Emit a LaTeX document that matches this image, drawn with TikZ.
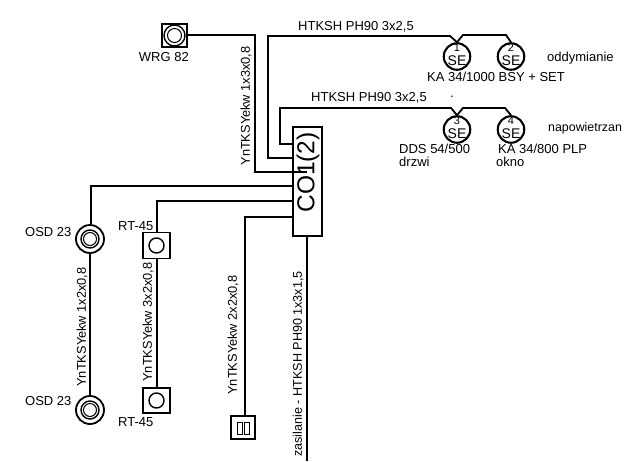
\documentclass[tikz,border=0pt]{standalone}
\usepackage{fontspec}
\setmainfont{Liberation Sans}
\tikzset{
	lbl/.style={inner sep=0pt,font=\fontsize{13}{14}\selectfont},
	vlbl/.style={inner sep=0pt,rotate=90,font=\fontsize{12.8}{14}\selectfont},
	wire/.style={line width=1.8pt},
	sensor/.style={draw,line width=2.1pt,circle,minimum size=26.5pt,inner sep=0pt},
	ring/.style={draw,line width=1.4pt,circle,inner sep=0pt},
	sqbox/.style={draw,line width=1.6pt,inner sep=0pt},
	senum/.style={inner sep=0pt,font=\fontsize{11}{12}\selectfont},
	setxt/.style={inner sep=0pt,font=\fontsize{14}{15}\selectfont}
}
\begin{document}
\begin{tikzpicture}[x=1pt,y=-1pt]
	\useasboundingbox (0,0) rectangle (626,461);
	% central box
	\node[draw,line width=1.1pt,minimum width=29pt,minimum height=109pt,inner sep=0pt] (co) at (307.5,181.5) {};
	\node[rotate=90,inner sep=0pt,font=\fontsize{24.5}{26}\selectfont] (cotxt) at (308,172.5) {CO1(2)};
	% top left button
	\node[sqbox,minimum width=25pt,minimum height=23pt] (wrg) at (174.5,35.5) {};
	\node[ring,minimum size=21pt] (wrga) at (wrg) {};
	\node[ring,line width=1pt,minimum size=14pt] (wrgb) at (wrg) {};
	\node[lbl,anchor=east] (wrgtxt) at (189,57) {WRG 82};
	% detectors
	\node[ring,line width=1.8pt,minimum size=28pt] (osda) at (90,239) {};
	\node[ring,minimum size=18pt] (osdb) at (osda) {};
	\node[ring,line width=1pt,minimum size=13pt] (osdc) at (osda) {};
	\node[ring,line width=1.8pt,minimum size=28pt] (osdd) at (90,410) {};
	\node[ring,minimum size=18pt] (osde) at (osdd) {};
	\node[ring,line width=1pt,minimum size=13pt] (osdf) at (osdd) {};
	\node[lbl,anchor=west] (osdatxt) at (25,232) {OSD 23};
	\node[lbl,anchor=west] (osdbtxt) at (25,401) {OSD 23};
	% manual switches
	\node[sqbox,minimum width=27pt,minimum height=26pt] (rta) at (156.5,245.5) {};
	\node[ring,minimum size=15pt] (rtaa) at (rta) {};
	\node[sqbox,minimum width=27pt,minimum height=25pt] (rtb) at (156.5,400.5) {};
	\node[ring,minimum size=15pt] (rtbb) at (rtb) {};
	\node[lbl,anchor=west] (rtatxt) at (118,226) {RT-45};
	\node[lbl,anchor=west] (rtbtxt) at (118,422) {RT-45};
	% small box
	\node[sqbox,minimum width=24pt,minimum height=23pt] (kont) at (243,427.5) {};
	\node[draw,line width=.8pt,minimum width=5pt,minimum height=12pt,inner sep=0pt] (konta) at (239.5,428) {};
	\node[draw,line width=.8pt,minimum width=5pt,minimum height=12pt,inner sep=0pt] (kontb) at (247,428) {};
	% SE units
	\node[sensor] (sea) at (457,56.5) {};
	\node[sensor] (seb) at (511,56.5) {};
	\node[sensor] (sec) at (457,129.5) {};
	\node[sensor] (sed) at (511,129.5) {};
	% turning points
	\coordinate (ta) at (255,35);
	\coordinate (tb) at (255,172);
	\coordinate (tc) at (307,172);
	\coordinate (td) at (268,158);
	\coordinate (te) at (268,36);
	\coordinate (tf) at (450,36);
	\coordinate (tg) at (463,35);
	\coordinate (th) at (506,35);
	\coordinate (ti) at (280,144);
	\coordinate (tj) at (280,108);
	\coordinate (tk) at (451,108);
	\coordinate (tl) at (463,108);
	\coordinate (tm) at (505,108);
	\coordinate (tn) at (91,186);
	\coordinate (to) at (157,201);
	\coordinate (tp) at (245,217);
	\coordinate (tq) at (307,461);
	% wires
	\draw[wire] (wrg.east |- ta) -- (ta) -- (tb) -- (tc);
	\draw[wire] (co.west |- td) -- (td) -- (te) -- (tf) -- (sea.north);
	\draw[wire] (sea.north) -- (tg) -- (th) -- (seb.north);
	\draw[wire] (co.west |- ti) -- (ti) -- (tj) -- (tk) -- (sec.north);
	\draw[wire] (sec.north) -- (tl) -- (tm) -- (sed.north);
	\draw[wire] (co.west |- tn) -- (tn) -- (osda.north -| tn);
	\draw[wire] (co.west |- to) -- (to) -- (rta.north -| to);
	\draw[wire] (co.west |- tp) -- (tp) -- (kont.north -| tp);
	\draw[wire] (co.south -| tq) -- (tq);
	\draw[wire] (osda) ++(0,14) -- (osdd.north);
	\draw[wire] (rta.south -| to) -- (rtb.north -| to);
	% labels
	\node[senum] (seanum) at (457,48) {1};
	\node[senum] (sebnum) at (511,48) {2};
	\node[senum] (secnum) at (457,121) {3};
	\node[senum] (sednum) at (511,121) {4};
	\node[setxt] (seatxt) at (457,60.5) {SE};
	\node[setxt] (sebtxt) at (511,60.5) {SE};
	\node[setxt] (sectxt) at (457,133.5) {SE};
	\node[setxt] (sedtxt) at (511,133.5) {SE};
	\node[lbl,anchor=west] (hta) at (298,27) {HTKSH PH90 3x2,5};
	\node[lbl,anchor=west] (htb) at (311,98) {HTKSH PH90 3x2,5};
	\node[lbl] (kropka) at (452,97) {.};
	\node[lbl,anchor=west] (odd) at (547,58) {oddymianie};
	\node[lbl,anchor=west] (kaa) at (427,77) {KA 34/1000 BSY + SET};
	\node[lbl,anchor=west,font=\fontsize{12.4}{14}\selectfont] (nap) at (548,128) {napowietrzan};
	\node[lbl,anchor=west] (dds) at (399,149) {DDS 54/500};
	\node[lbl,anchor=west] (drz) at (399,162) {drzwi};
	\node[lbl,anchor=west] (kab) at (498,149) {KA 34/800 PLP};
	\node[lbl,anchor=west] (okn) at (496,162) {okno};
	\node[vlbl] (yna) at (246,106) {YnTKSYekw 1x3x0,8};
	\node[vlbl] (ynb) at (82,327) {YnTKSYekw 1x2x0,8};
	\node[vlbl] (ync) at (148,322) {YnTKSYekw 3x2x0,8};
	\node[vlbl] (ynd) at (233,335) {YnTKSYekw 2x2x0,8};
	\node[vlbl,font=\fontsize{12.6}{14}\selectfont] (zas) at (298,364) {zasilanie - HTKSH PH90 1x3x1,5};
\end{tikzpicture}
\end{document}
